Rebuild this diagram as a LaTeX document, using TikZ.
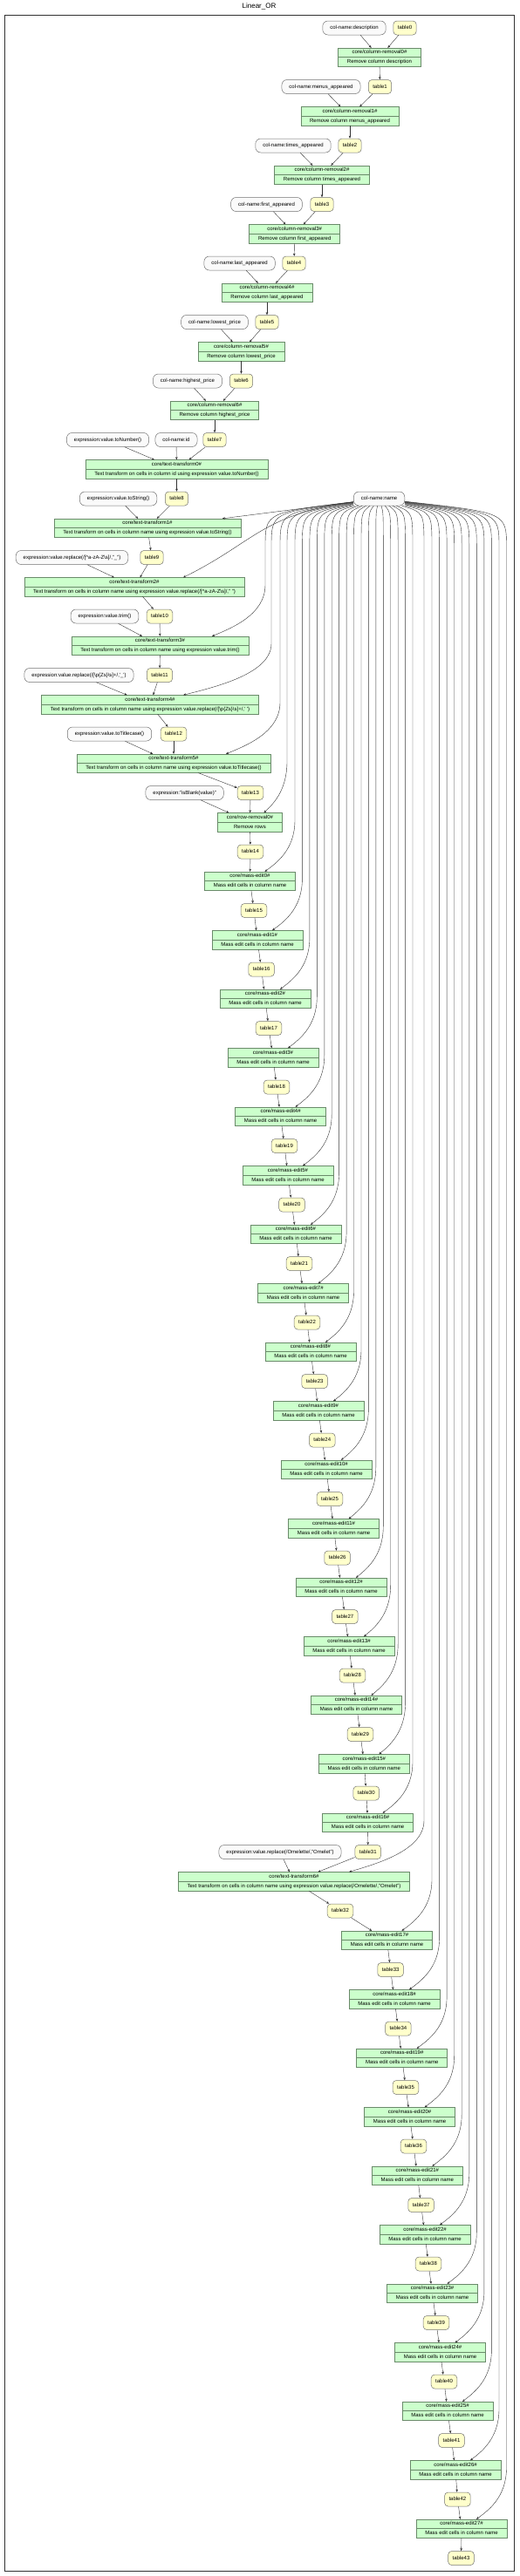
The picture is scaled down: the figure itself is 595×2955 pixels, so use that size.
\documentclass[tikz,border=0pt]{standalone}
\usepackage{fontspec}
\setmainfont{Liberation Sans}
\usetikzlibrary{shapes.multipart,arrows.meta,calc}
\definecolor{procfill}{HTML}{CCFFCC}
\definecolor{procdraw}{HTML}{6A8A6A}
\definecolor{tabfill}{HTML}{FFFFCC}
\definecolor{tabdraw}{HTML}{707070}
\definecolor{infill}{HTML}{FAFAFA}
\definecolor{indraw}{HTML}{707070}
\newcommand\ms{\rule[-1.4pt]{0pt}{5.8pt}}
\tikzset{
  every node/.style={font=\fontsize{6}{7}\selectfont},
  proc/.style={rectangle split, rectangle split parts=2, draw=procdraw, fill=procfill, inner xsep=10.3pt, inner ysep=2.1pt, line width=0.6pt},
  tab/.style={draw=tabdraw, fill=tabfill, rounded corners=4pt, inner xsep=5pt, inner ysep=0pt, minimum height=16pt, line width=0.5pt, execute at begin node={\ms}},
  inp/.style={draw=indraw, fill=infill, rounded corners=6pt, inner xsep=8.5pt, inner ysep=0pt, minimum height=16pt, line width=0.5pt, execute at begin node={\ms}},
  conn/.style={draw=black!80, line width=0.4pt, -{Stealth[length=3.2pt,width=2.6pt]}},
}
\begin{document}
\begin{tikzpicture}[x=1pt,y=-1pt]
\useasboundingbox (0,0) rectangle (595,2955);
\node[font=\fontsize{8}{9}\selectfont] (title) at (297,7) {Linear\_OR};
\draw[line width=0.8pt, draw=black!80] (5.3,17) rectangle (589,2949);

% tables
\foreach \r/\x in {0/464, 1/435.5, 2/401, 3/369, 4/337, 5/306, 6/276.5, 7/246, 8/202.5, 9/174, 10/183, 11/183, 12/199, 13/287, 14/287, 15/291, 16/299.6, 17/308, 18/317, 19/326, 20/334.5, 21/343, 22/352, 23/360.6, 24/369.3, 25/378, 26/386.6, 27/395.4, 28/404, 29/413, 30/419.8, 31/421.8, 32/390, 33/447.6, 34/456.4, 35/465, 36/474, 37/482.6, 38/491, 39/500, 40/509, 41/517.5, 42/524.4, 43/528.5}
  \node[tab] (t\r) at (\x,{32+67.5*\r}) {table\r};

% inputs
\node[inp] (c0) at (406,32) {col-name:description};
\node[inp] (c1) at (368,99.5) {col-name:menus\_appeared};
\node[inp] (c2) at (336,167) {col-name:times\_appeared};
\node[inp] (c3) at (305.5,234.5) {col-name:first\_appeared};
\node[inp] (c4) at (274.6,302) {col-name:last\_appeared};
\node[inp] (c5) at (246,369.5) {col-name:lowest\_price};
\node[inp] (c6) at (215,437) {col-name:highest\_price};
\node[inp] (e0) at (123.5,504.5) {expression:value.toNumber()};
\node[inp] (cid) at (202,504.5) {col-name:id};
\node[inp] (e1) at (135.6,572) {expression:value.toString()};
\node[inp] (cname) at (434.6,572) {col-name:name};
\node[inp] (e2) at (82.5,639.5) {expression:value.replace(/[\textasciicircum a-zA-Z\textbackslash s]/,"\_")};
\node[inp] (e3) at (120,707) {expression:value.trim()};
\node[inp] (e4) at (90.5,774.5) {expression:value.replace(/[\textbackslash p\{Zs\}\textbackslash s]+/,\textquotesingle\_\textquotesingle)};
\node[inp] (e5) at (125.5,842) {expression:value.toTitlecase()};
\node[inp] (e6) at (211.6,909.5) {expression:"isBlank(value)"};
\node[inp] (e7) at (321,2124.5) {expression:value.replace(/Omelette/,"Omelet")};

% process nodes
\node[proc] (p0) at (435,{65.75+67.5*0}) {\ms core/column-removal0\#\nodepart{two}\ms Remove column description};
\node[proc] (p1) at (401,{65.75+67.5*1}) {\ms core/column-removal1\#\nodepart{two}\ms Remove column menus\_appeared};
\node[proc] (p2) at (369,{65.75+67.5*2}) {\ms core/column-removal2\#\nodepart{two}\ms Remove column times\_appeared};
\node[proc] (p3) at (337.7,{65.75+67.5*3}) {\ms core/column-removal3\#\nodepart{two}\ms Remove column first\_appeared};
\node[proc] (p4) at (306,{65.75+67.5*4}) {\ms core/column-removal4\#\nodepart{two}\ms Remove column last\_appeared};
\node[proc] (p5) at (276.5,{65.75+67.5*5}) {\ms core/column-removal5\#\nodepart{two}\ms Remove column lowest\_price};
\node[proc] (p6) at (246,{65.75+67.5*6}) {\ms core/column-removal6\#\nodepart{two}\ms Remove column highest\_price};
\node[proc] (p7) at (202.5,{65.75+67.5*7}) {\ms core/text-transform0\#\nodepart{two}\ms Text transform on cells in column id using expression value.toNumber()};
\node[proc] (p8) at (169,{65.75+67.5*8}) {\ms core/text-transform1\#\nodepart{two}\ms Text transform on cells in column name using expression value.toString()};
\node[proc] (p9) at (154,{65.75+67.5*9}) {\ms core/text-transform2\#\nodepart{two}\ms Text transform on cells in column name using expression value.replace(/[\textasciicircum a-zA-Z\textbackslash s]/," ")};
\node[proc] (p10) at (183.5,{65.75+67.5*10}) {\ms core/text-transform3\#\nodepart{two}\ms Text transform on cells in column name using expression value.trim()};
\node[proc] (p11) at (172,{65.75+67.5*11}) {\ms core/text-transform4\#\nodepart{two}\ms Text transform on cells in column name using expression value.replace(/[\textbackslash p\{Zs\}\textbackslash s]+/,\textquotesingle\ \textquotesingle)};
\node[proc] (p12) at (199,{65.75+67.5*12}) {\ms core/text-transform5\#\nodepart{two}\ms Text transform on cells in column name using expression value.toTitlecase()};
\node[proc] (p13) at (286.5,{65.75+67.5*13}) {\ms core/row-removal0\#\nodepart{two}\ms Remove rows};
\node[proc] (p31) at (337,{65.75+67.5*31}) {\ms core/text-transform6\#\nodepart{two}\ms Text transform on cells in column name using expression value.replace(/Omelette/,"Omelet")};
\foreach \r/\x/\k in {14/286.5/0, 15/295/1, 16/304/2, 17/313/3, 18/321.6/4, 19/330/5, 20/339/6, 21/347.6/7, 22/356/8, 23/365/9, 24/374/10, 25/382.6/11, 26/391/12, 27/400/13, 28/408.5/14, 29/417.4/15, 30/421.6/16, 32/443.5/17, 33/452/18, 34/460.7/19, 35/469.6/20, 36/478.4/21, 37/487/22, 38/495.6/23, 39/504.5/24, 40/513/25, 41/522/26, 42/529/27}
  \node[proc] (p\r) at (\x,{65.75+67.5*\r}) {\ms core/mass-edit\k\#\nodepart{two}\ms Mass edit cells in column name};

% chain edges
\foreach \r in {0,...,42}{
  \pgfmathtruncatemacro\n{\r+1}
  \draw[conn] (t\r) -- (p\r);
  \draw[conn] (p\r) -- (t\n);
}
% input edges
\foreach \a/\b in {c0/p0, c1/p1, c2/p2, c3/p3, c4/p4, c5/p5, c6/p6, e0/p7, cid/p7, e1/p8, e2/p9, e3/p10, e4/p11, e5/p12, e6/p13, e7/p31}
  \draw[conn] (\a) -- (\b);

% col-name:name fan-out
\draw[conn] (cname) -- (p8);
\draw[conn] (cname) .. controls (300,590) and (292,622) .. ($(p9.north)+(56,0)$);
\foreach \r/\cx/\L/\dx in {10/183.5/304/59.5, 11/172/311/38, 12/199/321/60, 13/286.5/329/16, 14/286.5/338/17, 15/295/346.4/17, 16/304/354.9/17, 17/313/363.3/17, 18/321.6/371.8/17, 19/330/380.2/17, 20/339/388.6/17, 21/347.6/397.1/17, 22/356/405.5/17, 23/365/414/17, 24/374/422.4/17, 25/382.6/430.8/17, 26/391/439.3/17, 27/400/447.7/17, 28/408.5/456.2/17, 29/417.4/464.6/17, 30/421.6/473/17, 31/337/486/63, 32/443.5/495/17, 33/452/503.6/17, 34/460.7/512.1/17, 35/469.6/520.7/17, 36/478.4/529.2/17, 37/487/537.8/17, 38/495.6/546.3/17, 39/504.5/554.9/17, 40/513/563.4/17, 41/522/572/17, 42/529/580.5/17}{
  \pgfmathsetmacro\yt{65.75+67.5*\r-10}
  \pgfmathsetmacro\ax{\cx+\dx}
  \pgfmathsetmacro\cxx{\ax+0.35*(\L-\ax)}
  \draw[conn] (cname) .. controls (\L,588) .. (\L,628) -- (\L,{\yt-60}) .. controls (\L,{\yt-25}) and (\cxx,{\yt-10}) .. ($(p\r.north)+(\dx,0)$);
}
\end{tikzpicture}
\end{document}
